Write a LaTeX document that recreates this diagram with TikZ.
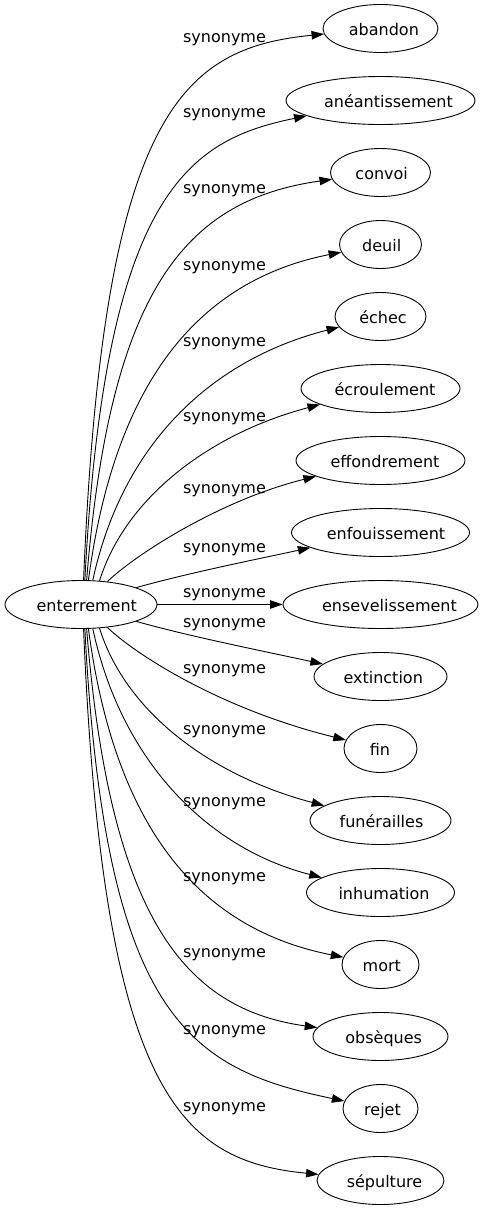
\documentclass[tikz,border=0pt]{standalone}
\usepackage{fontspec}
\setmainfont{DejaVu Sans}
\usetikzlibrary{shapes.geometric,arrows.meta}
% text shifted right by #1 pt inside a zero-width box
\newcommand\mywtxt[2]{\makebox[0pt]{\kern#1pt\kern#1pt #2}}
\tikzset{
  word/.style={draw=black, line width=0.9pt, ellipse, inner sep=0pt,
    minimum height=48pt, text height=16pt, text depth=3pt,
    font=\fontsize{16}{19}\selectfont},
  lbl/.style={anchor=base, inner sep=0pt, font=\fontsize{16}{19}\selectfont},
  syn/.style={draw=black, line width=0.9pt, -{Triangle[length=12.5pt,width=8.5pt]}}
}
\begin{document}
\begin{tikzpicture}[x=1pt,y=-1pt]
\useasboundingbox (0,0) rectangle (485,1211);
% nodes
\node[word, minimum width=152pt] (ent) at (81,604.5) {\mywtxt{5.8}{enterrement}};
\node[word, minimum width=115pt] (abandon) at (380.5,28.5) {\mywtxt{3.4}{abandon}};
\node[word, minimum width=189pt] (aneant) at (380.5,100.5) {\mywtxt{8}{anéantissement}};
\node[word, minimum width=100pt] (convoi) at (380.5,172.5) {\mywtxt{1.2}{convoi}};
\node[word, minimum width=82pt] (deuil) at (380.5,244.5) {\mywtxt{1.2}{deuil}};
\node[word, minimum width=91pt] (echec) at (380.5,316.5) {\mywtxt{2.5}{échec}};
\node[word, minimum width=159pt] (ecroul) at (380.5,388.5) {\mywtxt{4.5}{écroulement}};
\node[word, minimum width=169pt] (effond) at (380.5,460.5) {\mywtxt{4.5}{effondrement}};
\node[word, minimum width=178pt] (enfouis) at (380.5,532.5) {\mywtxt{5.5}{enfouissement}};
\node[word, minimum width=195pt] (ensev) at (380.5,604.5) {\mywtxt{9}{ensevelissement}};
\node[word, minimum width=133pt] (extinc) at (380.5,676.5) {\mywtxt{2.7}{extinction}};
\node[word, minimum width=73pt] (fin) at (380.5,748.5) {\mywtxt{-0.5}{fin}};
\node[word, minimum width=141pt] (funer) at (380.5,820.5) {\mywtxt{1}{funérailles}};
\node[word, minimum width=148pt] (inhum) at (380.5,892.5) {\mywtxt{3.5}{inhumation}};
\node[word, minimum width=77pt] (mort) at (380.5,964.5) {\mywtxt{1.3}{mort}};
\node[word, minimum width=135pt] (obseq) at (380.5,1036.5) {\mywtxt{3.2}{obsèques}};
\node[word, minimum width=75pt] (rejet) at (380.5,1108.5) {\mywtxt{2}{rejet}};
\node[word, minimum width=127pt] (sepult) at (380.5,1180.5) {\mywtxt{4}{sépulture}};
% edges
\draw[syn] (ent.84) .. controls (103,112) and (182,48) .. (abandon);
\draw[syn] (ent.81) .. controls (105,190) and (190,140) .. (aneant);
\draw[syn] (ent.77) .. controls (110,290) and (185,200) .. (convoi);
\draw[syn] (ent.73) .. controls (115,380) and (200,280) .. (deuil);
\draw[syn] (ent.64) .. controls (122,445) and (210,360) .. (echec);
\draw[syn] (ent.52) .. controls (126,496) and (212,433) .. (ecroul);
\draw[syn] (ent.41) .. controls (135,555) and (220,500) .. (effond);
\draw[syn] (ent.17) .. controls (188,573) and (258,559) .. (enfouis);
\draw[syn] (ent.east) -- (ensev.west);
\draw[syn] (ent.-17) .. controls (188,636) and (258,650) .. (extinc);
\draw[syn] (ent.-41) .. controls (135,654) and (220,709) .. (fin);
\draw[syn] (ent.-52) .. controls (126,713) and (212,776) .. (funer);
\draw[syn] (ent.-64) .. controls (122,764) and (210,849) .. (inhum);
\draw[syn] (ent.-73) .. controls (115,829) and (200,929) .. (mort);
\draw[syn] (ent.-77) .. controls (110,919) and (185,1009) .. (obseq);
\draw[syn] (ent.-81) .. controls (105,1019) and (190,1069) .. (rejet);
\draw[syn] (ent.-84) .. controls (103,1097) and (182,1161) .. (sepult);
% labels
\node[lbl] (l0) at (224.5,42.5) {synonyme};
\node[lbl] (l1) at (224.5,117.5) {synonyme};
\node[lbl] (l2) at (224.5,193.5) {synonyme};
\node[lbl] (l3) at (224.5,270.5) {synonyme};
\node[lbl] (l4) at (224.5,346.5) {synonyme};
\node[lbl] (l5) at (224.5,421.5) {synonyme};
\node[lbl] (l6) at (224.5,493.5) {synonyme};
\node[lbl] (l7) at (224.5,552.5) {synonyme};
\node[lbl] (l8) at (224.5,597.5) {synonyme};
\node[lbl] (l9) at (224.5,627.5) {synonyme};
\node[lbl] (l10) at (224.5,673.5) {synonyme};
\node[lbl] (l11) at (224.5,734.5) {synonyme};
\node[lbl] (l12) at (224.5,806.5) {synonyme};
\node[lbl] (l13) at (224.5,881.5) {synonyme};
\node[lbl] (l14) at (224.5,957.5) {synonyme};
\node[lbl] (l15) at (224.5,1034.5) {synonyme};
\node[lbl] (l16) at (224.5,1111.5) {synonyme};
\end{tikzpicture}
\end{document}
